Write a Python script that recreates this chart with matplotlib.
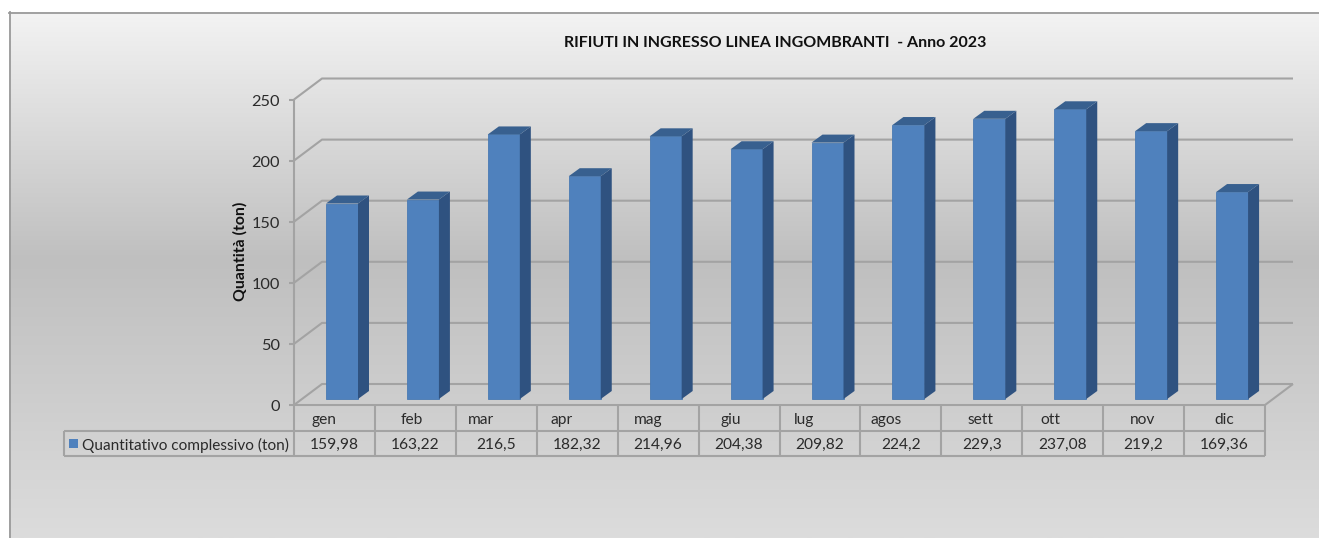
import numpy as np
import matplotlib
matplotlib.use("Agg")
import matplotlib.pyplot as plt
from matplotlib.patches import Polygon
from matplotlib.colors import LinearSegmentedColormap

months = ["gen", "feb", "mar", "apr", "mag", "giu", "lug", "agos", "sett", "ott", "nov", "dic"]
values = [159.98, 163.22, 216.5, 182.32, 214.96, 204.38, 209.82, 224.2, 229.3, 237.08, 219.2, 169.36]
value_labels = ["159,98", "163,22", "216,5", "182,32", "214,96", "204,38", "209,82", "224,2", "229,3", "237,08", "219,2", "169,36"]
y_ticks = [0, 50, 100, 150, 200, 250]
series_name = "Quantitativo complessivo (ton)"
title = "RIFIUTI IN INGRESSO LINEA INGOMBRANTI  - Anno 2023"
y_title = "Quantità (ton)"

# horizontal pixel centres of the (unevenly placed) month labels
month_label_px = [324, 412, 481, 562, 648, 731, 804, 886, 981, 1050, 1143, 1224]

W, H = 1319, 538
FONT = ["Lato", "DejaVu Sans"]
plt.rcParams["font.family"] = FONT
fig = plt.figure(figsize=(W / 100, H / 100), dpi=100, facecolor="white")

# panel background
bg = fig.add_axes([9 / W, 0, 1 - 9 / W, 1 - 12 / H])
cmap = LinearSegmentedColormap.from_list("g", [(0, "#f3f3f3"), (0.47, "#bfbfbf"), (1, "#dcdcdc")])
bg.imshow(np.linspace(0, 1, 256)[:, None], aspect="auto", cmap=cmap, vmin=0, vmax=1)
bg.set_xticks([]); bg.set_yticks([])
for s in bg.spines.values():
    s.set_visible(False)
fig.add_artist(plt.Line2D([9.5 / W, 9.5 / W], [0, 1 - 12 / H], color="#9a9a9a", lw=1.3))
fig.add_artist(plt.Line2D([9 / W, 1], [1 - 12.5 / H, 1 - 12.5 / H], color="#9a9a9a", lw=1.3))

# main axes = front plane of the 3D box
x0, x1, y0, y1 = 294, 1265, 405, 99.5
ax = fig.add_axes([x0 / W, 1 - y0 / H, (x1 - x0) / W, (y0 - y1) / H])
ax.set_xlim(0, 12)
ax.set_ylim(0, 250)
ax.patch.set_alpha(0)
ax.axis("off")
px = 12 / (x1 - x0)          # data units per pixel, x
py = 250 / (y0 - y1)         # data units per pixel, y
dx, dy = 28 * px, 21 * py    # depth of the box
GRID = "#a3a3a3"
TXT = "#2b2b2b"
lk = dict(color=GRID, lw=1.5, clip_on=False, solid_capstyle="butt")

for t in y_ticks:
    ax.plot([0, dx, 12 + dx], [t, t + dy, t + dy], **lk)
    ax.plot([-5 * px, 0], [t, t], **lk)
    ax.text(-14 * px, t - 2 * py, str(t), ha="right", va="center", fontsize=11.8, color=TXT)
ax.plot([0, 0], [0, 250], **lk)
ax.plot([12, 12 + dx], [0, dy], **lk)

# bars
bw = 32 * px
bdx, bdy = 11 * px, 8 * py
base = 6 * py
for i, v in enumerate(values):
    left = i + 32 * px
    ax.bar(left, v, width=bw, bottom=base, align="edge", color="#4f81bd", edgecolor="#4a7ab3", lw=0.6, zorder=3, clip_on=False)
    r, top = left + bw, base + v
    ax.add_patch(Polygon([(r, base), (r + bdx, base + bdy), (r + bdx, top + bdy), (r, top)], fc="#2f5280", ec="none", zorder=3, clip_on=False))
    ax.add_patch(Polygon([(left, top), (left + bdx, top + bdy), (r + bdx, top + bdy), (r, top)], fc="#38608f", ec="none", zorder=3, clip_on=False))

# data table
row1 = -26 * py
row2 = -51 * py
leg_left = (64 - x0) * px
ax.plot([0, 12], [0, 0], **lk)
ax.plot([leg_left, 12], [row1, row1], **lk)
ax.plot([leg_left, 12], [row2, row2], **lk)
ax.plot([leg_left, leg_left], [row1, row2], **lk)
for i in range(13):
    ax.plot([i, i], [0, row2], **lk)
for i, (m, lab) in enumerate(zip(months, value_labels)):
    ax.text((month_label_px[i] - x0) * px, row1 / 2 - 1.5, m, ha="center", va="center", fontsize=11.2, color=TXT)
    ax.text(i + 0.5, (row1 + row2) / 2 - 1.5, lab, ha="center", va="center", fontsize=11.2, color=TXT)
ax.add_patch(Polygon([((69 - x0) * px, row1 - 8 * py), ((78 - x0) * px, row1 - 8 * py), ((78 - x0) * px, row1 - 17 * py), ((69 - x0) * px, row1 - 17 * py)], fc="#4f81bd", ec="none", clip_on=False))
ax.text((82 - x0) * px, (row1 + row2) / 2 - 1.5, series_name, ha="left", va="center", fontsize=11.1, color=TXT)

fig.text(775 / W, 1 - 43 / H, title, ha="center", va="center", fontsize=11.5, fontweight="bold", color="#111111")
fig.text(240 / W, 1 - 251 / H, y_title, ha="center", va="center", rotation=90, fontsize=11.4, fontweight="bold", color="#111111")

fig.savefig("out.png", dpi=100)
